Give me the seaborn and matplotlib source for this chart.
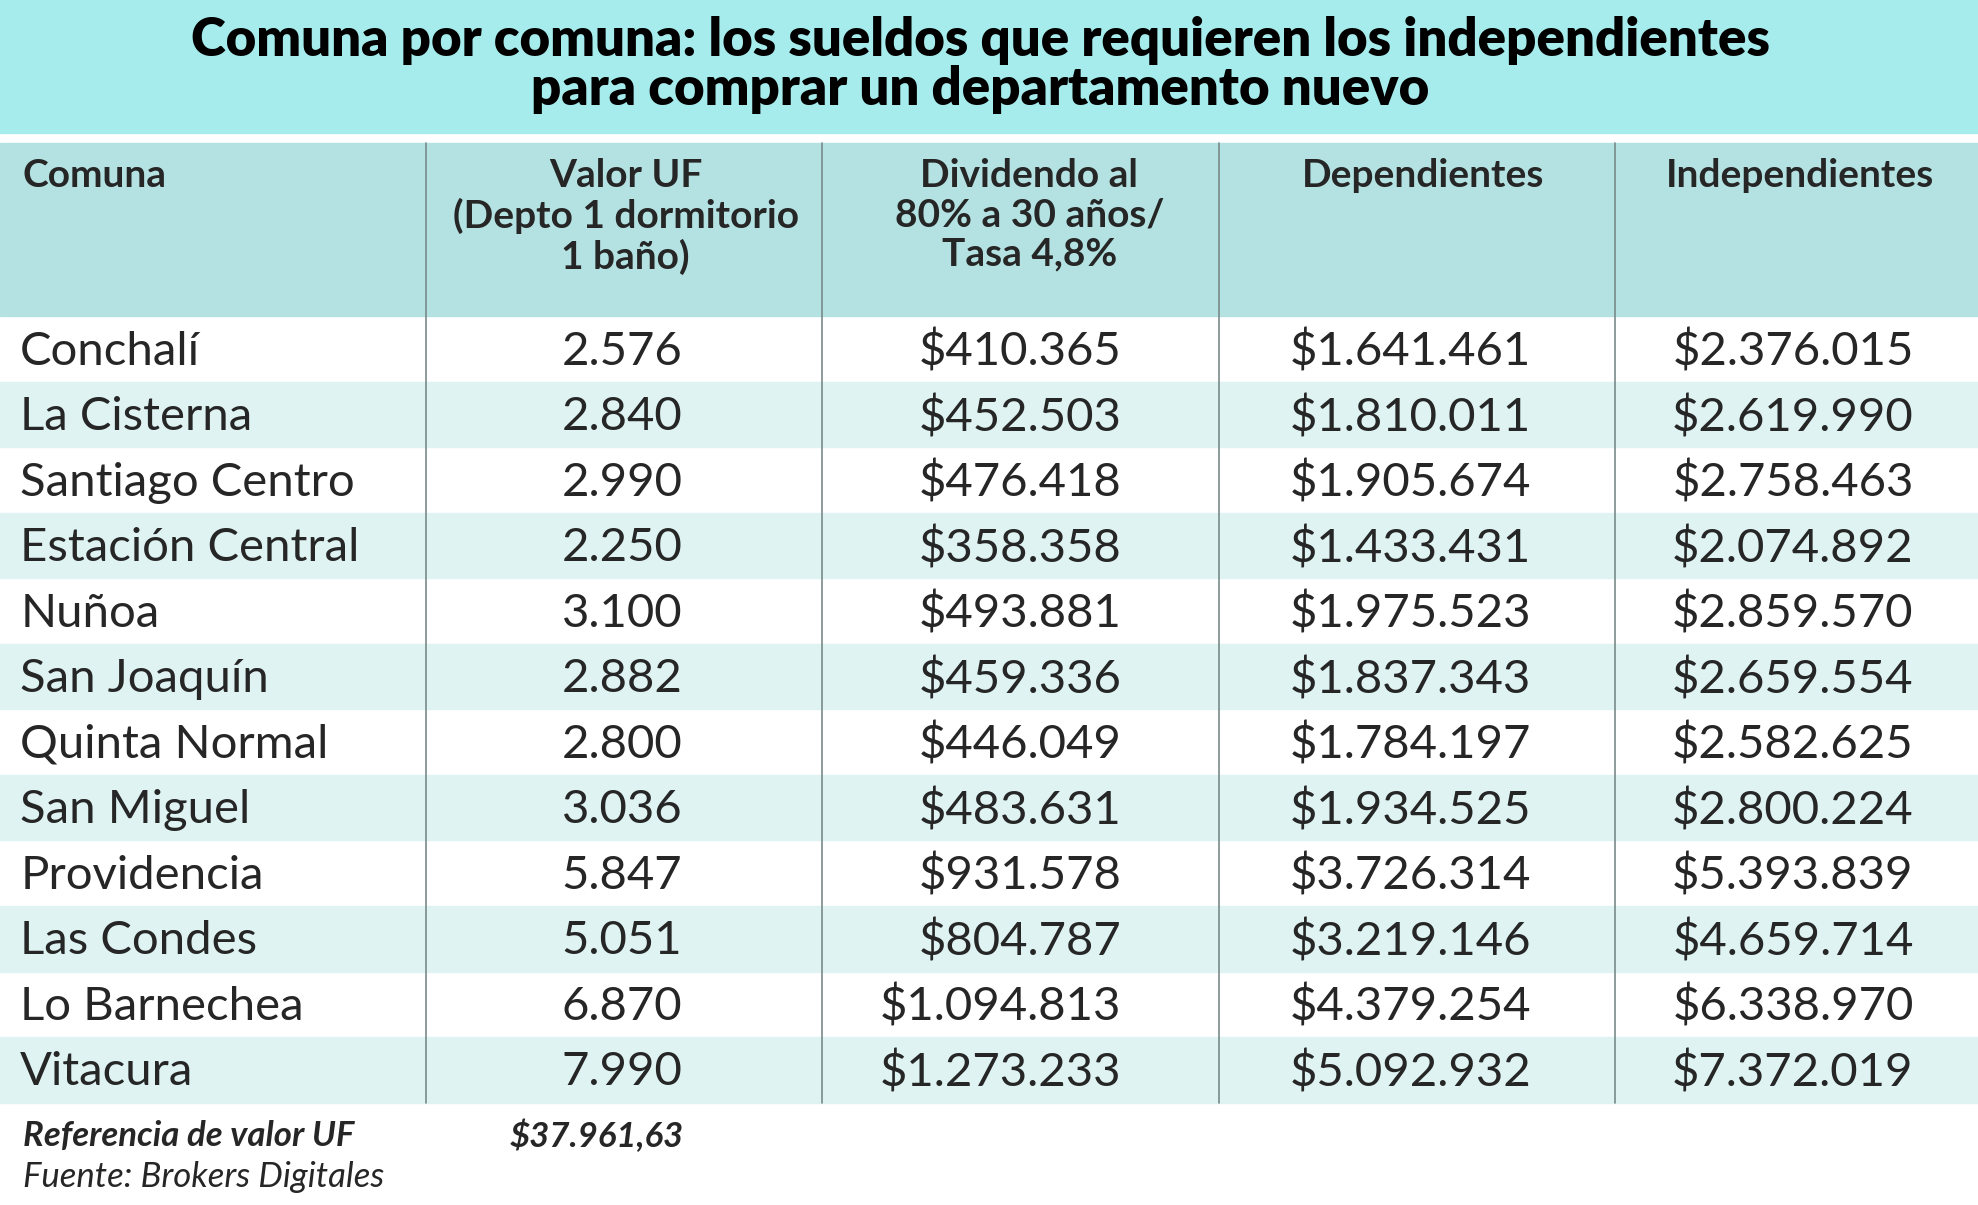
import matplotlib.pyplot as plt
import seaborn as sns
from matplotlib.patches import Rectangle

sns.set_theme(style="white")
plt.rcParams['font.family'] = ['Lato', 'DejaVu Sans']

title = "Comuna por comuna: los sueldos que requieren los independientes\npara comprar un departamento nuevo"
headers = ["Comuna", "Valor UF\n(Depto 1 dormitorio\n1 baño)", "Dividendo al\n80% a 30 años/\nTasa 4,8%",
           "Dependientes", "Independientes"]
comunas = ["Conchalí", "La Cisterna", "Santiago Centro", "Estación Central", "Nuñoa", "San Joaquín",
           "Quinta Normal", "San Miguel", "Providencia", "Las Condes", "Lo Barnechea", "Vitacura"]
valor_uf = ["2.576", "2.840", "2.990", "2.250", "3.100", "2.882", "2.800", "3.036", "5.847", "5.051", "6.870", "7.990"]
dividendo = ["$410.365", "$452.503", "$476.418", "$358.358", "$493.881", "$459.336", "$446.049", "$483.631",
             "$931.578", "$804.787", "$1.094.813", "$1.273.233"]
dependientes = ["$1.641.461", "$1.810.011", "$1.905.674", "$1.433.431", "$1.975.523", "$1.837.343",
                "$1.784.197", "$1.934.525", "$3.726.314", "$3.219.146", "$4.379.254", "$5.092.932"]
independientes = ["$2.376.015", "$2.619.990", "$2.758.463", "$2.074.892", "$2.859.570", "$2.659.554",
                  "$2.582.625", "$2.800.224", "$5.393.839", "$4.659.714", "$6.338.970", "$7.372.019"]

fig = plt.figure(figsize=(19.78, 12.05), dpi=100)
ax = fig.add_axes([0, 0, 1, 1])
ax.set_xlim(0, 1568)
ax.set_ylim(960, 0)
ax.axis('off')

# title band
ax.add_patch(Rectangle((0, 0), 1568, 106, color='#a6ecec'))
ax.text(777, 52, title, ha='center', va='center', fontsize=38, fontweight='heavy',
        color='black', linespacing=1.0)

# header
ax.add_patch(Rectangle((0, 114), 1568, 138, color='#b4e2e2'))
hx = [18, 496, 816, 1128, 1427]
for i, h in enumerate(headers):
    ax.text(hx[i], 126, h, ha='left' if i == 0 else 'center', va='top',
            fontsize=28, fontweight='bold', linespacing=1.15)

# rows
top, rh = 252, 52.2
cols = [valor_uf, dividendo, dependientes, independientes]
rx = [541, 889, 1214, 1517]
for r, name in enumerate(comunas):
    y = top + r * rh
    if r % 2 == 1:
        ax.add_patch(Rectangle((0, y), 1568, rh, color='#dff3f3'))
    ax.text(16, y + rh / 2 + 2, name, ha='left', va='center', fontsize=34)
    for c, col in enumerate(cols):
        ax.text(rx[c], y + rh / 2 + 2, col[r], ha='right', va='center', fontsize=34)

bottom = top + len(comunas) * rh
for x in [338, 652, 966, 1280]:
    ax.plot([x, x], [114, bottom], color='#7a8a8a', lw=1.2)

ax.text(18, 905, "Referencia de valor UF", ha='left', va='center', fontsize=25,
        fontweight='bold', style='italic')
ax.text(542, 905, "$37.961,63", ha='right', va='center', fontsize=25, fontweight='bold', style='italic')
ax.text(18, 938, "Fuente: Brokers Digitales", ha='left', va='center', fontsize=25, style='italic')

fig.savefig('out.png', dpi=100)
